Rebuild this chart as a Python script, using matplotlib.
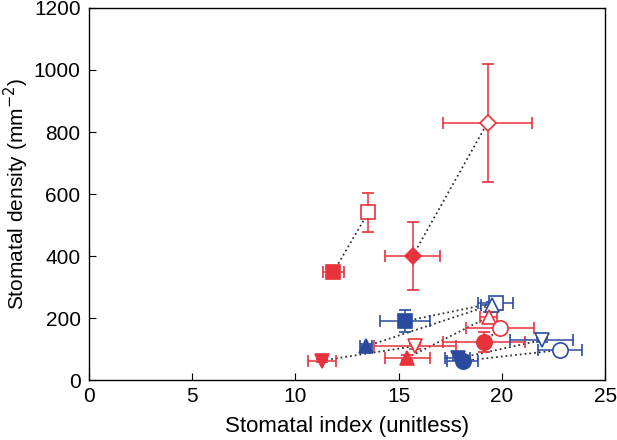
import matplotlib
matplotlib.use('Agg')
import matplotlib.pyplot as plt

plt.rcParams['font.family'] = ['Liberation Sans', 'DejaVu Sans']

RED = '#e8323c'
BLUE = '#2a4a9e'

# stomatal index / density, one entry per group
names = ['r_sq', 'r_sq_o', 'r_dia', 'r_dia_o', 'b_sq', 'b_sq_o',
         'b_tri', 'b_tri_o', 'r_tri', 'r_tri_o', 'r_dn', 'r_dn_o',
         'r_ci', 'r_ci_o', 'b_dn', 'b_dn_o', 'b_ci', 'b_ci_o']
si = [11.84, 13.53, 15.68, 19.30, 15.31, 19.70,
      13.42, 19.50, 15.42, 19.35, 11.27, 15.80,
      19.14, 19.91, 17.85, 21.93, 18.10, 22.79]
density = [349, 541, 401, 830, 190, 250,
           109, 243, 72, 204, 63, 110,
           124, 167, 70, 129, 62, 97]
si_err = [0.5, 0.15, 1.33, 2.15, 1.2, 0.85,
          0.3, 0.5, 1.1, 0.4, 0.68, 1.98,
          1.98, 1.65, 0.6, 1.53, 0.75, 1.07]
density_err = [12, 63, 110, 190, 36, 12,
               8, 10, 8, 15, 6, 8,
               32, 6, 6, 6, 6, 6]

# filled -> open pairs joined by dotted lines
pairs = [('r_sq', 'r_sq_o'), ('r_dia', 'r_dia_o'), ('b_sq', 'b_sq_o'),
         ('b_tri', 'b_tri_o'), ('r_tri', 'r_tri_o'), ('r_dn', 'r_dn_o'),
         ('r_ci', 'r_ci_o'), ('b_dn', 'b_dn_o'), ('b_ci', 'b_ci_o')]

markers = {'sq': 's', 'dia': 'D', 'tri': '^', 'dn': 'v', 'ci': 'o'}
msizes = {'sq': 9.5, 'dia': 8, 'tri': 10.5, 'dn': 10.5, 'ci': 11}

fig = plt.figure(figsize=(6.17, 4.40), dpi=100)
ax = fig.add_axes([0.144, 0.136, 0.837, 0.846])

idx = {n: i for i, n in enumerate(names)}
for a, b in pairs:
    ia, ib = idx[a], idx[b]
    ax.plot([si[ia], si[ib]], [density[ia], density[ib]], ':', color='#333333',
            lw=1.3, zorder=1)

for i, n in enumerate(names):
    parts = n.split('_')
    color = RED if parts[0] == 'r' else BLUE
    shape = parts[1]
    is_open = n.endswith('_o')
    ax.errorbar(si[i], density[i], xerr=si_err[i], yerr=density_err[i],
                fmt=markers[shape], ms=msizes[shape], color=color,
                mfc='white' if is_open else color, mec=color, mew=1.2,
                ecolor=color, elinewidth=1.1, capsize=4, capthick=1.1, zorder=3)

ax.set_xlim(0, 25)
ax.set_ylim(0, 1200)
ax.set_xticks([0, 5, 10, 15, 20, 25])
ax.set_yticks([0, 200, 400, 600, 800, 1000, 1200])
ax.tick_params(direction='in', length=5, labelsize=15, top=False, right=False)
ax.tick_params(axis='y', pad=6)
ax.tick_params(axis='x', pad=5)
ax.set_xlabel('Stomatal index (unitless)', fontsize=16, labelpad=7)
ax.set_ylabel('Stomatal density (mm$^{-2}$)', fontsize=15, labelpad=2)
for s in ax.spines.values():
    s.set_linewidth(1.0)

fig.savefig('out.png', dpi=100)
